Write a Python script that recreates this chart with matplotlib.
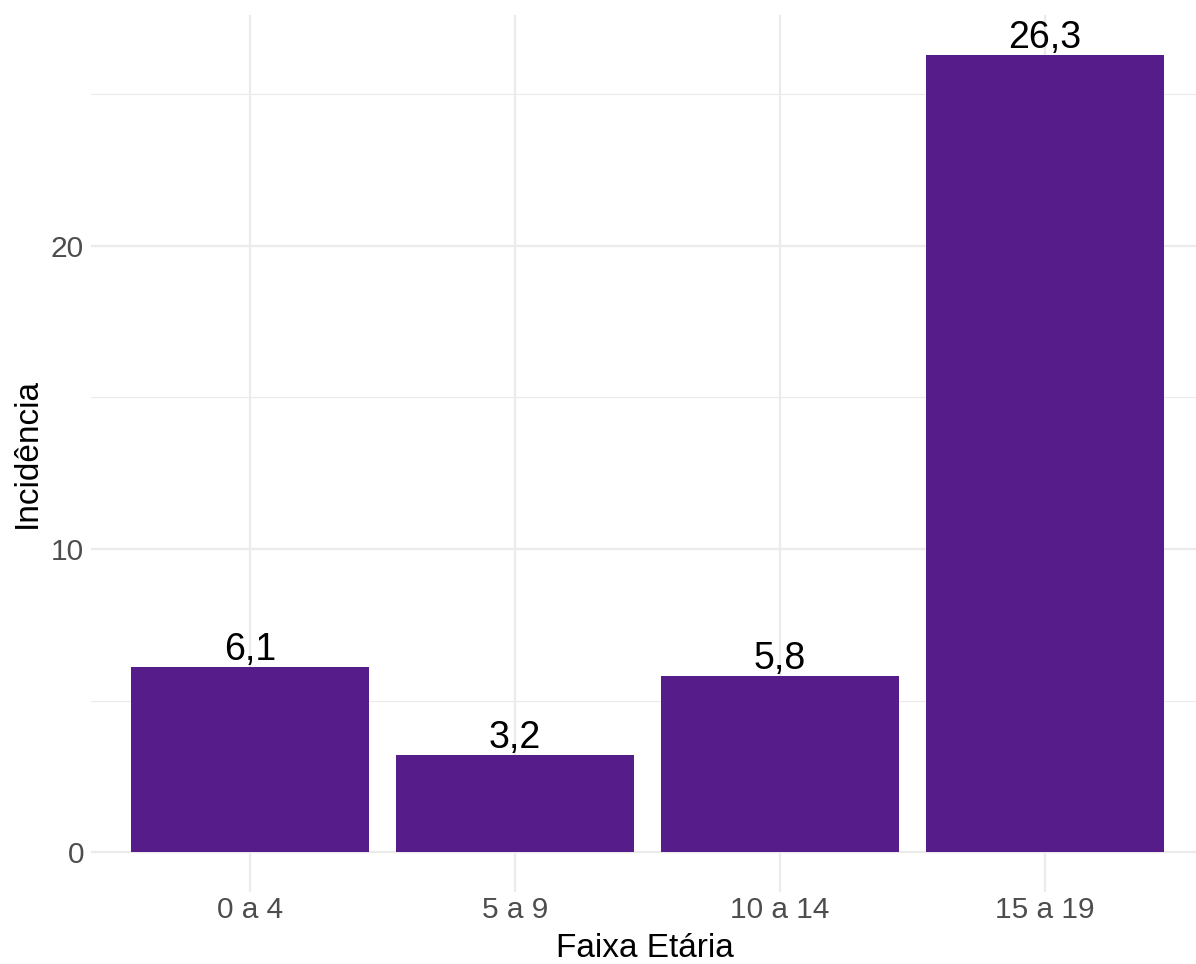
import matplotlib.pyplot as plt
from matplotlib.ticker import MultipleLocator

plt.rcParams['font.family'] = ['Liberation Sans', 'DejaVu Sans']

# Incidence by age group
faixas = ["0 a 4", "5 a 9", "10 a 14", "15 a 19"]
incidencia = [6.1, 3.2, 5.8, 26.3]

BAR_COLOR = "#561C8A"
GRID_COLOR = "#EBEBEB"

W, H = 1196, 964
fig = plt.figure(figsize=(W / 100, H / 100), dpi=100)
# panel in pixels: x 91..1204 (slightly past the right edge), y 15..892
ax = fig.add_axes([91 / W, 1 - 892 / H, (1204 - 91) / W, (892 - 15) / H])

pos = list(range(1, len(faixas) + 1))
ax.bar(pos, incidencia, width=0.9, color=BAR_COLOR, zorder=2)
for x, v in zip(pos, incidencia):
    ax.annotate(f"{v:.1f}".replace(".", ","), xy=(x, v), xytext=(0, 5),
                textcoords="offset points", ha="center", va="baseline",
                fontsize=27, color="black", zorder=3)

ax.set_xlim(0.4, 4.6)
ax.set_ylim(-1.315, 27.615)
ax.set_xticks(pos)
ax.set_xticklabels(faixas)
ax.yaxis.set_major_locator(MultipleLocator(10))
ax.yaxis.set_minor_locator(MultipleLocator(5))

ax.grid(True, which="major", color=GRID_COLOR, linewidth=1.6, zorder=0)
ax.grid(True, which="minor", axis="y", color=GRID_COLOR, linewidth=0.8, zorder=0)
ax.set_axisbelow(True)

for s in ax.spines.values():
    s.set_visible(False)
ax.tick_params(which="both", length=0, labelsize=21.5, labelcolor="#4D4D4D")
ax.tick_params(axis="x", pad=3)
ax.tick_params(axis="y", pad=5)

ax.set_xlabel("Faixa Etária", fontsize=24, va="baseline")
ax.set_ylabel("Incidência", fontsize=24, va="center")
ax.xaxis.set_label_coords(0.498, -0.074)
ax.yaxis.set_label_coords(-0.0575, 0.50)

fig.savefig("out.png", dpi=100)
